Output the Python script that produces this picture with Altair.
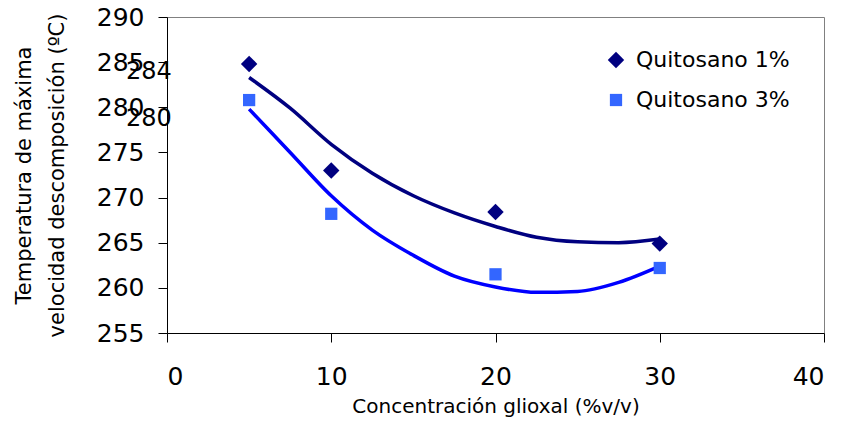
import altair as alt
import pandas as pd

# Measured points
conc = [5, 10, 20, 30]
q1_vals = [284.8, 273.0, 268.4, 264.9]
q3_vals = [280.8, 268.2, 261.5, 262.2]

# Trend lines
trend_x = [5, 7.5, 10, 12.5, 15, 17.5, 20, 22.5, 25, 27.5, 30]
trend_q1 = [283.3, 279.9, 275.9, 272.7, 270.2, 268.3, 266.8, 265.6, 265.1, 265.0, 265.4]
trend_q3 = [279.8, 275.0, 270.2, 266.4, 263.6, 261.3, 260.1, 259.5, 259.6, 260.6, 262.4]

series = ["Quitosano 1%", "Quitosano 3%"]
marker_colors = ["#000080", "#3366FF"]
line_colors = ["#000080", "#0000FF"]
shapes = ["diamond", "square"]
marker_sizes = [270, 150]

# Stray data labels near the y axis
lab_text = ["284", "280"]
lab_x = [-1.1, -1.1]
lab_y = [283.9, 278.7]

FONT = "DejaVu Sans"

pts = pd.DataFrame({
    "x": conc * 2,
    "y": q1_vals + q3_vals,
    "serie": [series[0]] * len(conc) + [series[1]] * len(conc),
})
t1 = pd.DataFrame({"x": trend_x, "y": trend_q1})
t3 = pd.DataFrame({"x": trend_x, "y": trend_q3})
labs = pd.DataFrame({"x": lab_x, "y": lab_y, "t": lab_text})

xs = alt.Scale(domain=[0, 40], nice=False, zero=False)
ys = alt.Scale(domain=[255, 290], nice=False, zero=False)

x_axis = alt.Axis(
    values=[0, 10, 20, 30, 40], title="Concentración glioxal (%v/v)",
    grid=False, domainColor="black", tickColor="black", tickSize=9,
    labelFont=FONT, labelFontSize=25, labelColor="black", labelPadding=22,
    titleFont=FONT, titleFontSize=20, titleFontWeight="normal", titleColor="black",
    titlePadding=7,
)
y_axis = alt.Axis(
    values=[255, 260, 265, 270, 275, 280, 285, 290],
    title=["Temperatura de máxima", "velocidad descomposición (ºC)"],
    grid=False, domainColor="black", tickColor="black", tickSize=9,
    labelFont=FONT, labelFontSize=25, labelColor="black", labelPadding=14,
    titleFont=FONT, titleFontSize=21, titleFontWeight="normal", titleColor="black",
    titlePadding=29, titleLineHeight=33,
)

line1 = alt.Chart(t1).mark_line(strokeWidth=3.5, interpolate="monotone", color=line_colors[0]).encode(
    x=alt.X("x:Q", scale=xs, axis=x_axis),
    y=alt.Y("y:Q", scale=ys, axis=y_axis),
)
line3 = alt.Chart(t3).mark_line(strokeWidth=3.5, interpolate="monotone", color=line_colors[1]).encode(
    x=alt.X("x:Q", scale=xs),
    y=alt.Y("y:Q", scale=ys),
)


def make_legend():
    return alt.Legend(
        title=None, orient="none", legendX=438, legendY=32,
        labelFont=FONT, labelFontSize=22, labelColor="black", labelLimit=300,
        symbolSize=170, symbolStrokeWidth=0, labelOffset=9, rowPadding=18, padding=0,
    )


points = alt.Chart(pts).mark_point(filled=True, opacity=1).encode(
    x=alt.X("x:Q", scale=xs),
    y=alt.Y("y:Q", scale=ys),
    color=alt.Color("serie:N", scale=alt.Scale(domain=series, range=marker_colors), legend=make_legend()),
    shape=alt.Shape("serie:N", scale=alt.Scale(domain=series, range=shapes), legend=make_legend()),
    size=alt.Size("serie:N", scale=alt.Scale(domain=series, range=marker_sizes), legend=None),
)

texts = alt.Chart(labs).mark_text(font=FONT, fontSize=24, color="black", align="center", baseline="middle").encode(
    x=alt.X("x:Q", scale=xs),
    y=alt.Y("y:Q", scale=ys),
    text="t:N",
)

chart = (line1 + line3 + points + texts).properties(
    width=657, height=316,
    autosize=alt.AutoSizeParams(type="none"),
    padding={"left": 167, "top": 17, "right": 19, "bottom": 88},
    background="white",
).configure_view(
    stroke="#808080", strokeWidth=1
)

chart.save("out.html", embed_options={"renderer": "svg", "actions": False})
